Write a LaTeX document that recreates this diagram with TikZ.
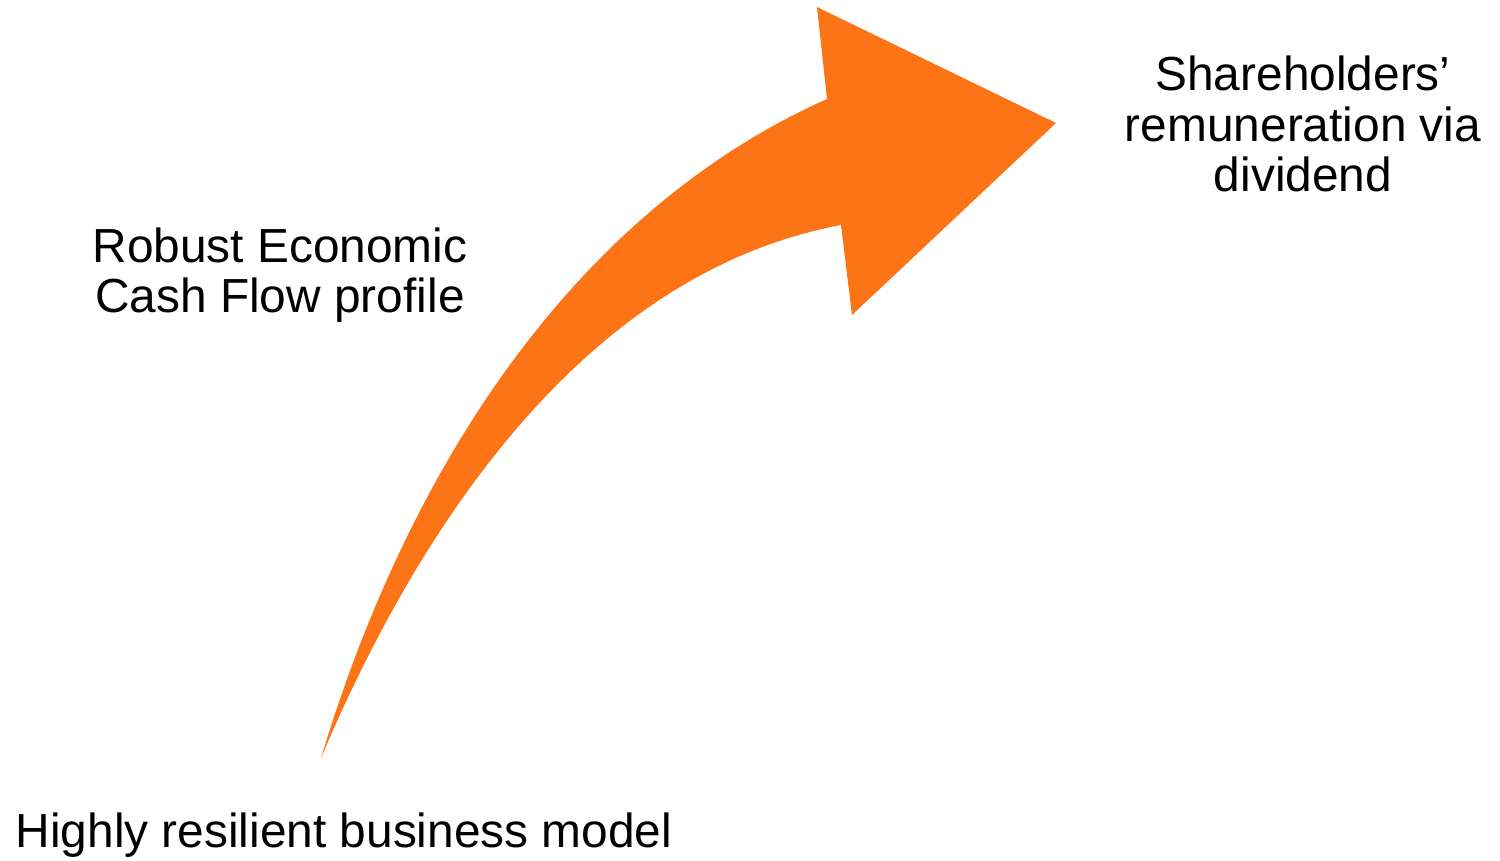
\documentclass[tikz,border=0pt]{standalone}
\usepackage{fontspec}
\setmainfont{Liberation Sans}
\definecolor{arroworange}{RGB}{252,116,22}
\begin{document}
\begin{tikzpicture}[x=0.01cm,y=-0.01cm,
  lbl/.style={font=\fontsize{13.6pt}{14.3pt}\selectfont, align=center, inner sep=0pt, text=black}]
\useasboundingbox (0,0) rectangle (1500,860);
\fill[arroworange] (321,758) .. controls (420,430) and (600,200) .. (827,99)
  -- (817,7) -- (1056,123) -- (852,315) -- (841,225)
  .. controls (600,270) and (430,500) .. (321,758) -- cycle;
\node[lbl] (top) at (1303,124) {Shareholders’\\remuneration via\\dividend};
\node[lbl] (mid) at (280,275) {Robust Economic\\Cash Flow profile};
\node[lbl, anchor=west] (bot) at (15,835) {Highly resilient business model};
\end{tikzpicture}
\end{document}
